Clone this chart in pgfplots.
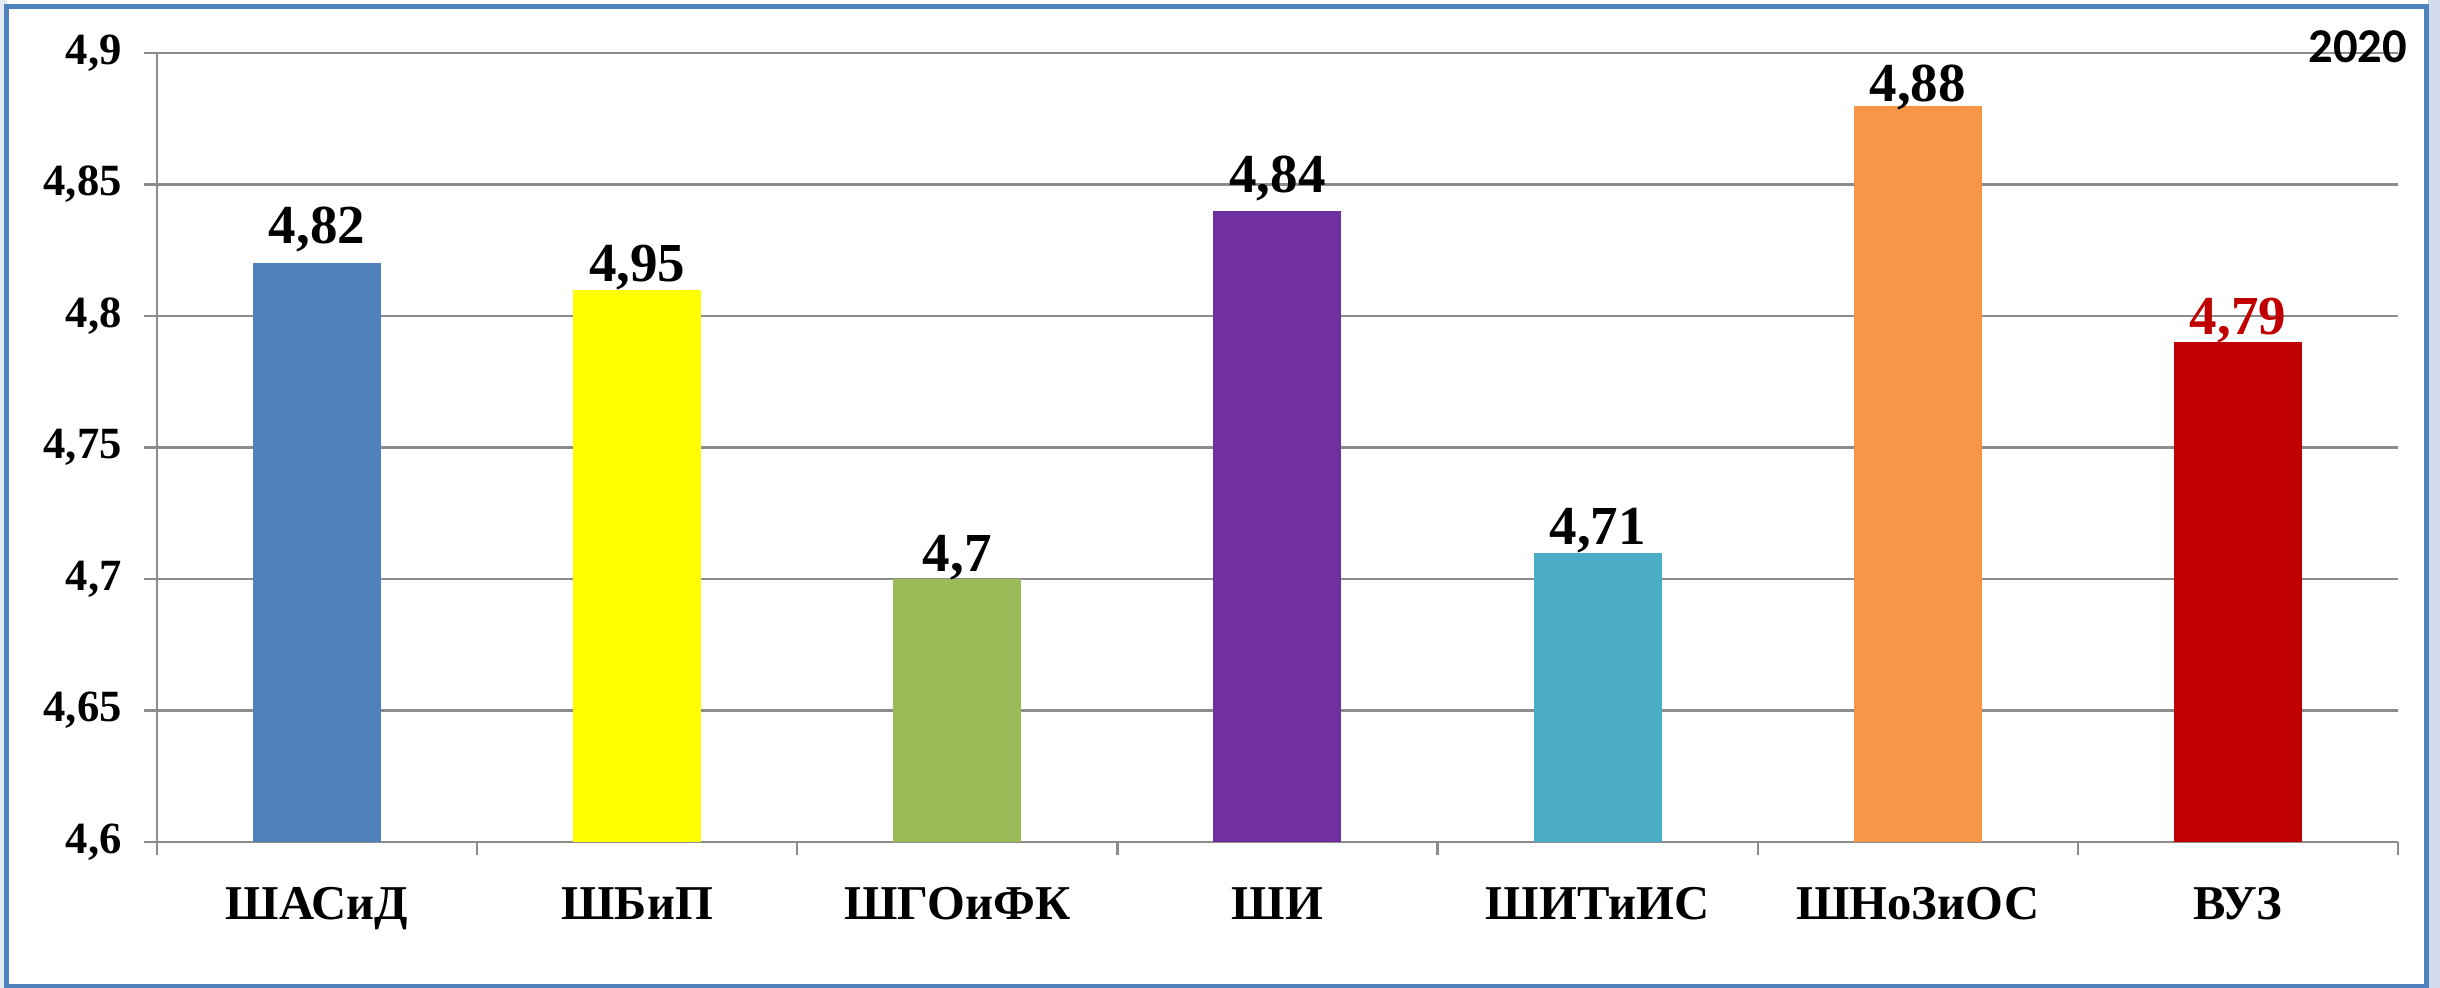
\documentclass[border=0pt]{standalone}
\usepackage{pgfplots}
\pgfplotsset{compat=1.18}
\usepackage{fontspec}
\setmainfont{Liberation Serif}
\newfontfamily\calib{Carlito}
\definecolor{cA}{HTML}{4F81BD}
\definecolor{cB}{HTML}{FFFF00}
\definecolor{cC}{HTML}{9BBB59}
\definecolor{cD}{HTML}{7030A0}
\definecolor{cE}{HTML}{4BACC6}
\definecolor{cF}{HTML}{F79646}
\definecolor{cG}{HTML}{C00000}
\definecolor{framecol}{HTML}{4F81BD}
\definecolor{deco}{HTML}{D3DCEE}
\definecolor{gridc}{HTML}{8C8C8C}
\begin{document}
\begin{tikzpicture}
\path[use as bounding box, fill=white] (-39.25bp,-36.5bp) rectangle (570.75bp,210.5bp);
\fill[deco] (567.75bp,-36.5bp) rectangle (570.75bp,210.5bp);
\fill[deco!60] (-39.25bp,-36.5bp) rectangle (-37.5bp,210.5bp);
\draw[framecol, line width=1.25bp] (-37.5bp,-36bp) rectangle (567.25bp,208.75bp);
\begin{axis}[
  at={(0,0)}, anchor=south west,
  scale only axis, width=560.25bp, height=197.25bp,
  xmin=-0.5, xmax=6.5, ymin=4.6, ymax=4.9,
  axis lines=left, axis line style={-, draw=gridc, line width=0.6bp},
  ytick={4.6,4.65,4.7,4.75,4.8,4.85,4.9},
  yticklabels={{4,6},{4,65},{4,7},{4,75},{4,8},{4,85},{4,9}},
  xtick={-0.5,0.5,1.5,2.5,3.5,4.5,5.5,6.5},
  x tick label as interval,
  xticklabels={ШАСиД,ШБиП,ШГОиФК,ШИ,ШИТиИС,ШНоЗиОС,ВУЗ},
  tick align=outside, major tick length=3.3bp,
  tick style={draw=gridc, line width=0.6bp},
  ymajorgrids, grid style={draw=gridc, line width=0.6bp},
  yticklabel style={font=\fontsize{11.2}{13}\selectfont\bfseries, xshift=-2bp},
  xticklabel style={font=\fontsize{12.2}{14}\selectfont\bfseries, yshift=-4.5bp},
  ybar, bar width=32bp,
  every axis plot/.append style={draw=none, bar shift=0pt},
  nodes near coords style={font=\fontsize{13.8}{16}\selectfont\bfseries},
  every node near coord/.append style={anchor=base, yshift=2bp},
]
\addplot[fill=cA, nodes near coords={4,82}, every node near coord/.append style={yshift=3bp}] coordinates {(0,4.82)};
\addplot[fill=cB, nodes near coords={4,95}] coordinates {(1,4.81)};
\addplot[fill=cC, nodes near coords={4,7}] coordinates {(2,4.70)};
\addplot[fill=cD, nodes near coords={4,84}, every node near coord/.append style={yshift=2.7bp}] coordinates {(3,4.84)};
\addplot[fill=cE, nodes near coords={4,71}] coordinates {(4,4.71)};
\addplot[fill=cF, nodes near coords={4,88}, every node near coord/.append style={yshift=-1bp}] coordinates {(5,4.88)};
\addplot[fill=cG, nodes near coords={\textcolor{cG}{4,79}}] coordinates {(6,4.79)};
\end{axis}
\node[anchor=base east, inner sep=0pt, font=\calib\bfseries\fontsize{12.2}{14}\selectfont] at (562.75bp,194.75bp) {2020};
\end{tikzpicture}
\end{document}
